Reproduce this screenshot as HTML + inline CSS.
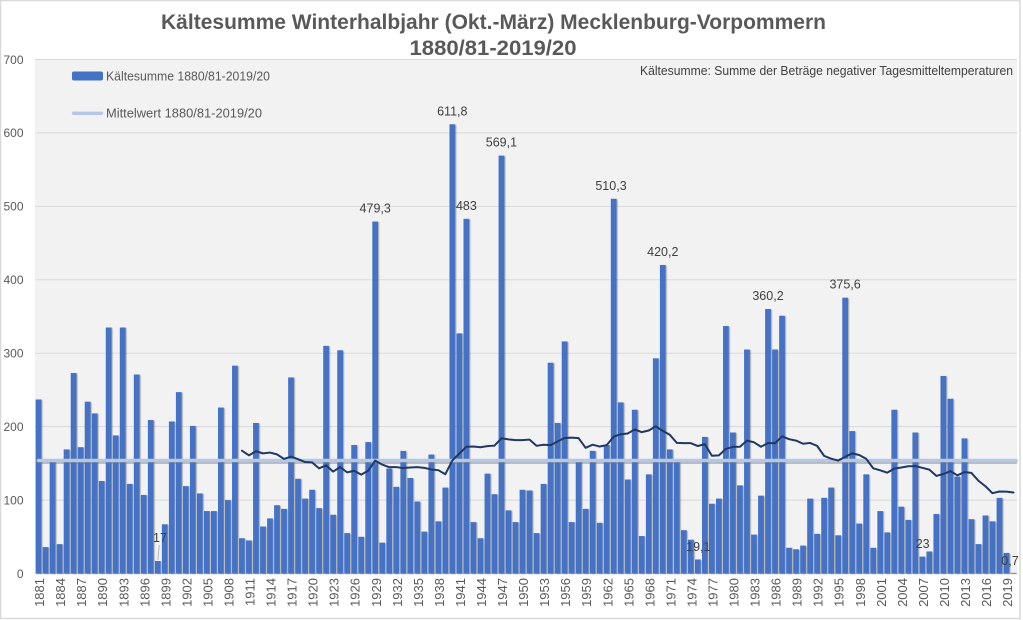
<!DOCTYPE html>
<html>
<head>
<meta charset="utf-8">
<style>
html,body{margin:0;padding:0;background:#fff;}
body{width:1023px;height:620px;overflow:hidden;}
svg{display:block;}
text{font-family:"Liberation Sans",Arial,sans-serif;}
</style>
</head>
<body>
<svg width="1023" height="620" viewBox="0 0 1023 620" xmlns="http://www.w3.org/2000/svg">
<defs>
<filter id="sh" x="-5%" y="-5%" width="110%" height="110%">
<feDropShadow dx="1" dy="0.6" stdDeviation="0.5" flood-color="#000" flood-opacity="0.35"/>
</filter>
</defs>
<rect x="0" y="0" width="1023" height="620" fill="#ffffff"/>
<rect x="0.5" y="0.5" width="1019.5" height="618" fill="none" stroke="#d9d9d9" stroke-width="1.5"/>
<rect x="35" y="59.5" width="982" height="514" fill="#f2f2f2"/>

<!-- gridlines -->
<g stroke="#d9d9d9" stroke-width="1">
<line x1="35" x2="1017" y1="59.5" y2="59.5"/>
<line x1="35" x2="1017" y1="132.9" y2="132.9"/>
<line x1="35" x2="1017" y1="206.4" y2="206.4"/>
<line x1="35" x2="1017" y1="279.8" y2="279.8"/>
<line x1="35" x2="1017" y1="353.2" y2="353.2"/>
<line x1="35" x2="1017" y1="426.6" y2="426.6"/>
<line x1="35" x2="1017" y1="500.1" y2="500.1"/>
<line x1="35" x2="1017" y1="573.5" y2="573.5"/>
</g>

<!-- y labels -->
<g fill="#595959" font-size="12" text-anchor="end">
<text x="23.5" y="63.8">700</text>
<text x="23.5" y="137.2">600</text>
<text x="23.5" y="210.7">500</text>
<text x="23.5" y="284.1">400</text>
<text x="23.5" y="357.5">300</text>
<text x="23.5" y="430.9">200</text>
<text x="23.5" y="504.4">100</text>
<text x="23.5" y="577.8">0</text>
</g>

<!-- bars -->
<g filter="url(#sh)">
<g transform="translate(35,573.5) scale(7.0143,-0.73429)" fill="#4472c4">
<rect x="0.09" width="0.82" height="237"/>
<rect x="1.09" width="0.82" height="36"/>
<rect x="2.09" width="0.82" height="153"/>
<rect x="3.09" width="0.82" height="40"/>
<rect x="4.09" width="0.82" height="169"/>
<rect x="5.09" width="0.82" height="273"/>
<rect x="6.09" width="0.82" height="172"/>
<rect x="7.09" width="0.82" height="234"/>
<rect x="8.09" width="0.82" height="218"/>
<rect x="9.09" width="0.82" height="126"/>
<rect x="10.09" width="0.82" height="335"/>
<rect x="11.09" width="0.82" height="188"/>
<rect x="12.09" width="0.82" height="335"/>
<rect x="13.09" width="0.82" height="122"/>
<rect x="14.09" width="0.82" height="271"/>
<rect x="15.09" width="0.82" height="107"/>
<rect x="16.09" width="0.82" height="209"/>
<rect x="17.09" width="0.82" height="17"/>
<rect x="18.09" width="0.82" height="67"/>
<rect x="19.09" width="0.82" height="207"/>
<rect x="20.09" width="0.82" height="247"/>
<rect x="21.09" width="0.82" height="119"/>
<rect x="22.09" width="0.82" height="201"/>
<rect x="23.09" width="0.82" height="109"/>
<rect x="24.09" width="0.82" height="85"/>
<rect x="25.09" width="0.82" height="85"/>
<rect x="26.09" width="0.82" height="226"/>
<rect x="27.09" width="0.82" height="100"/>
<rect x="28.09" width="0.82" height="283"/>
<rect x="29.09" width="0.82" height="48"/>
<rect x="30.09" width="0.82" height="45"/>
<rect x="31.09" width="0.82" height="205"/>
<rect x="32.09" width="0.82" height="64"/>
<rect x="33.09" width="0.82" height="75"/>
<rect x="34.09" width="0.82" height="93"/>
<rect x="35.09" width="0.82" height="88"/>
<rect x="36.09" width="0.82" height="267"/>
<rect x="37.09" width="0.82" height="129"/>
<rect x="38.09" width="0.82" height="102"/>
<rect x="39.09" width="0.82" height="114"/>
<rect x="40.09" width="0.82" height="89"/>
<rect x="41.09" width="0.82" height="310"/>
<rect x="42.09" width="0.82" height="80"/>
<rect x="43.09" width="0.82" height="304"/>
<rect x="44.09" width="0.82" height="55"/>
<rect x="45.09" width="0.82" height="175"/>
<rect x="46.09" width="0.82" height="50"/>
<rect x="47.09" width="0.82" height="179"/>
<rect x="48.09" width="0.82" height="479.3"/>
<rect x="49.09" width="0.82" height="42"/>
<rect x="50.09" width="0.82" height="143"/>
<rect x="51.09" width="0.82" height="118"/>
<rect x="52.09" width="0.82" height="167"/>
<rect x="53.09" width="0.82" height="130"/>
<rect x="54.09" width="0.82" height="98"/>
<rect x="55.09" width="0.82" height="57"/>
<rect x="56.09" width="0.82" height="162"/>
<rect x="57.09" width="0.82" height="71"/>
<rect x="58.09" width="0.82" height="117"/>
<rect x="59.09" width="0.82" height="611.8"/>
<rect x="60.09" width="0.82" height="327"/>
<rect x="61.09" width="0.82" height="483"/>
<rect x="62.09" width="0.82" height="70"/>
<rect x="63.09" width="0.82" height="48"/>
<rect x="64.09" width="0.82" height="136"/>
<rect x="65.09" width="0.82" height="108"/>
<rect x="66.09" width="0.82" height="569.1"/>
<rect x="67.09" width="0.82" height="86"/>
<rect x="68.09" width="0.82" height="70"/>
<rect x="69.09" width="0.82" height="114"/>
<rect x="70.09" width="0.82" height="113"/>
<rect x="71.09" width="0.82" height="55"/>
<rect x="72.09" width="0.82" height="122"/>
<rect x="73.09" width="0.82" height="287"/>
<rect x="74.09" width="0.82" height="205"/>
<rect x="75.09" width="0.82" height="316"/>
<rect x="76.09" width="0.82" height="70"/>
<rect x="77.09" width="0.82" height="153"/>
<rect x="78.09" width="0.82" height="88"/>
<rect x="79.09" width="0.82" height="167"/>
<rect x="80.09" width="0.82" height="69"/>
<rect x="81.09" width="0.82" height="175"/>
<rect x="82.09" width="0.82" height="510.3"/>
<rect x="83.09" width="0.82" height="233"/>
<rect x="84.09" width="0.82" height="128"/>
<rect x="85.09" width="0.82" height="223"/>
<rect x="86.09" width="0.82" height="51"/>
<rect x="87.09" width="0.82" height="135"/>
<rect x="88.09" width="0.82" height="293"/>
<rect x="89.09" width="0.82" height="420.2"/>
<rect x="90.09" width="0.82" height="169"/>
<rect x="91.09" width="0.82" height="153"/>
<rect x="92.09" width="0.82" height="59"/>
<rect x="93.09" width="0.82" height="46"/>
<rect x="94.09" width="0.82" height="19.1"/>
<rect x="95.09" width="0.82" height="186"/>
<rect x="96.09" width="0.82" height="95"/>
<rect x="97.09" width="0.82" height="102"/>
<rect x="98.09" width="0.82" height="337"/>
<rect x="99.09" width="0.82" height="192"/>
<rect x="100.09" width="0.82" height="120"/>
<rect x="101.09" width="0.82" height="305"/>
<rect x="102.09" width="0.82" height="53"/>
<rect x="103.09" width="0.82" height="106"/>
<rect x="104.09" width="0.82" height="360.2"/>
<rect x="105.09" width="0.82" height="305"/>
<rect x="106.09" width="0.82" height="351"/>
<rect x="107.09" width="0.82" height="35"/>
<rect x="108.09" width="0.82" height="33"/>
<rect x="109.09" width="0.82" height="38"/>
<rect x="110.09" width="0.82" height="102"/>
<rect x="111.09" width="0.82" height="54"/>
<rect x="112.09" width="0.82" height="103"/>
<rect x="113.09" width="0.82" height="117"/>
<rect x="114.09" width="0.82" height="52"/>
<rect x="115.09" width="0.82" height="375.6"/>
<rect x="116.09" width="0.82" height="194"/>
<rect x="117.09" width="0.82" height="68"/>
<rect x="118.09" width="0.82" height="135"/>
<rect x="119.09" width="0.82" height="35"/>
<rect x="120.09" width="0.82" height="85"/>
<rect x="121.09" width="0.82" height="56"/>
<rect x="122.09" width="0.82" height="223"/>
<rect x="123.09" width="0.82" height="91"/>
<rect x="124.09" width="0.82" height="73"/>
<rect x="125.09" width="0.82" height="192"/>
<rect x="126.09" width="0.82" height="23"/>
<rect x="127.09" width="0.82" height="30"/>
<rect x="128.09" width="0.82" height="81"/>
<rect x="129.09" width="0.82" height="269"/>
<rect x="130.09" width="0.82" height="238"/>
<rect x="131.09" width="0.82" height="132"/>
<rect x="132.09" width="0.82" height="184"/>
<rect x="133.09" width="0.82" height="74"/>
<rect x="134.09" width="0.82" height="40"/>
<rect x="135.09" width="0.82" height="79"/>
<rect x="136.09" width="0.82" height="71"/>
<rect x="137.09" width="0.82" height="103"/>
<rect x="138.09" width="0.82" height="28"/>
<rect x="139.09" width="0.82" height="0.9"/>
</g>
</g>

<!-- mean line -->
<line x1="38.5" y1="462.6" x2="1016" y2="462.6" stroke="#6f6f6f" stroke-opacity="0.45" stroke-width="2.5" stroke-linecap="round"/>
<line x1="38.5" y1="460.5" x2="1016" y2="460.5" stroke="#b4c7e7" stroke-width="3.6" stroke-linecap="round"/>

<!-- moving average -->
<g transform="translate(35,573.5) scale(7.0143,-0.73429)">
<polyline fill="none" stroke="#1f3864" stroke-width="2" vector-effect="non-scaling-stroke" stroke-linejoin="round" stroke-linecap="round" points="29.5,167.3 30.5,160.9 31.5,166.5 32.5,163.6 33.5,164.7 34.5,162.2 35.5,156 36.5,159.2 37.5,155.7 38.5,151.8 39.5,151.4 40.5,143.2 41.5,147.3 42.5,138.8 43.5,144.9 44.5,137.7 45.5,139.9 46.5,134.6 47.5,140 48.5,153.8 49.5,148.3 50.5,144.8 51.5,144.8 52.5,143.6 53.5,144.3 54.5,144.8 55.5,143.8 56.5,141.7 57.5,140.7 58.5,135.2 59.5,154 60.5,163.4 61.5,172.7 62.5,172.9 63.5,172 64.5,173.4 65.5,174.1 66.5,184.1 67.5,182.7 68.5,181.6 69.5,181.6 70.5,182.4 71.5,173.9 72.5,175.3 73.5,174.8 74.5,179.8 75.5,184.5 76.5,185.1 77.5,184.3 78.5,171.2 79.5,175.4 80.5,172.9 81.5,174.8 82.5,186.3 83.5,189.7 84.5,190.7 85.5,196.2 86.5,192.5 87.5,194.7 88.5,200.5 89.5,194.2 90.5,188.9 91.5,177.9 92.5,177.5 93.5,177.5 94.5,173.6 95.5,176.2 96.5,160.4 97.5,160.9 98.5,169.8 99.5,172.4 100.5,172.6 101.5,181 102.5,178.7 103.5,172.6 104.5,177.8 105.5,177.4 106.5,186.8 107.5,182.9 108.5,181 109.5,176.7 110.5,177.8 111.5,173.8 112.5,160.2 113.5,156.4 114.5,153.8 115.5,158.9 116.5,163.7 117.5,161.4 118.5,156.2 119.5,143.3 120.5,140.5 121.5,137.3 122.5,142.8 123.5,144.3 124.5,146.1 125.5,146.3 126.5,143.9 127.5,141.5 128.5,132.9 129.5,135.5 130.5,139.4 131.5,133.7 132.5,138 133.5,137 134.5,126.3 135.5,118.8 136.5,109.4 137.5,111.7 138.5,111.5 139.5,110.3"/>
</g>

<!-- data labels -->
<g fill="#404040" font-size="12.5" text-anchor="middle">
<text x="375.2" y="212.6">479,3</text>
<text x="452.3" y="115.5">611,8</text>
<text x="466.4" y="209.8">483</text>
<text x="501.4" y="146.6">569,1</text>
<text x="611" y="189.8">510,3</text>
<text x="662.8" y="256">420,2</text>
<text x="768" y="300">360,2</text>
<text x="845.1" y="288.7">375,6</text>
<text x="160" y="542">17</text>
<text x="698.3" y="551">19,1</text>
<text x="922.7" y="548">23</text>
<text x="1010" y="565">0,7</text>
</g>
<line x1="159.3" y1="545" x2="157.8" y2="560" stroke="#a6a6a6" stroke-width="0.8"/>

<!-- x labels -->
<g fill="#595959" font-size="13" text-anchor="end">
<text transform="translate(44.1,578) rotate(-90)">1881</text>
<text transform="translate(65.14,578) rotate(-90)">1884</text>
<text transform="translate(86.19,578) rotate(-90)">1887</text>
<text transform="translate(107.23,578) rotate(-90)">1890</text>
<text transform="translate(128.27,578) rotate(-90)">1893</text>
<text transform="translate(149.31,578) rotate(-90)">1896</text>
<text transform="translate(170.36,578) rotate(-90)">1899</text>
<text transform="translate(191.4,578) rotate(-90)">1902</text>
<text transform="translate(212.44,578) rotate(-90)">1905</text>
<text transform="translate(233.49,578) rotate(-90)">1908</text>
<text transform="translate(254.53,578) rotate(-90)">1911</text>
<text transform="translate(275.57,578) rotate(-90)">1914</text>
<text transform="translate(296.61,578) rotate(-90)">1917</text>
<text transform="translate(317.66,578) rotate(-90)">1920</text>
<text transform="translate(338.7,578) rotate(-90)">1923</text>
<text transform="translate(359.74,578) rotate(-90)">1926</text>
<text transform="translate(380.79,578) rotate(-90)">1929</text>
<text transform="translate(401.83,578) rotate(-90)">1932</text>
<text transform="translate(422.87,578) rotate(-90)">1935</text>
<text transform="translate(443.92,578) rotate(-90)">1938</text>
<text transform="translate(464.96,578) rotate(-90)">1941</text>
<text transform="translate(486,578) rotate(-90)">1944</text>
<text transform="translate(507.04,578) rotate(-90)">1947</text>
<text transform="translate(528.09,578) rotate(-90)">1950</text>
<text transform="translate(549.13,578) rotate(-90)">1953</text>
<text transform="translate(570.17,578) rotate(-90)">1956</text>
<text transform="translate(591.22,578) rotate(-90)">1959</text>
<text transform="translate(612.26,578) rotate(-90)">1962</text>
<text transform="translate(633.3,578) rotate(-90)">1965</text>
<text transform="translate(654.34,578) rotate(-90)">1968</text>
<text transform="translate(675.39,578) rotate(-90)">1971</text>
<text transform="translate(696.43,578) rotate(-90)">1974</text>
<text transform="translate(717.47,578) rotate(-90)">1977</text>
<text transform="translate(738.52,578) rotate(-90)">1980</text>
<text transform="translate(759.56,578) rotate(-90)">1983</text>
<text transform="translate(780.6,578) rotate(-90)">1986</text>
<text transform="translate(801.64,578) rotate(-90)">1989</text>
<text transform="translate(822.69,578) rotate(-90)">1992</text>
<text transform="translate(843.73,578) rotate(-90)">1995</text>
<text transform="translate(864.77,578) rotate(-90)">1998</text>
<text transform="translate(885.82,578) rotate(-90)">2001</text>
<text transform="translate(906.86,578) rotate(-90)">2004</text>
<text transform="translate(927.9,578) rotate(-90)">2007</text>
<text transform="translate(948.94,578) rotate(-90)">2010</text>
<text transform="translate(969.99,578) rotate(-90)">2013</text>
<text transform="translate(991.03,578) rotate(-90)">2016</text>
<text transform="translate(1012.07,578) rotate(-90)">2019</text>
</g>

<!-- title -->
<g fill="#595959" font-weight="bold" text-anchor="middle">
<text x="493.5" y="29" font-size="21" textLength="665" lengthAdjust="spacingAndGlyphs">Kältesumme Winterhalbjahr (Okt.-März) Mecklenburg-Vorpommern</text>
<text x="493" y="55" font-size="21.5" textLength="167" lengthAdjust="spacingAndGlyphs">1880/81-2019/20</text>
</g>

<!-- note -->
<text x="640" y="75" fill="#404040" font-size="12.5" textLength="373" lengthAdjust="spacingAndGlyphs">Kältesumme: Summe der Beträge negativer Tagesmitteltemperaturen</text>

<!-- legend -->
<rect x="72" y="71.5" width="31" height="9" rx="2" fill="#4472c4"/>
<text x="106" y="80.5" fill="#595959" font-size="13" textLength="164" lengthAdjust="spacingAndGlyphs">Kältesumme 1880/81-2019/20</text>
<line x1="73.5" y1="113.3" x2="101.5" y2="113.3" stroke="#b4c7e7" stroke-width="3.3" stroke-linecap="round"/>
<text x="106" y="117.5" fill="#595959" font-size="13" textLength="156" lengthAdjust="spacingAndGlyphs">Mittelwert 1880/81-2019/20</text>
</svg>
</body>
</html>
